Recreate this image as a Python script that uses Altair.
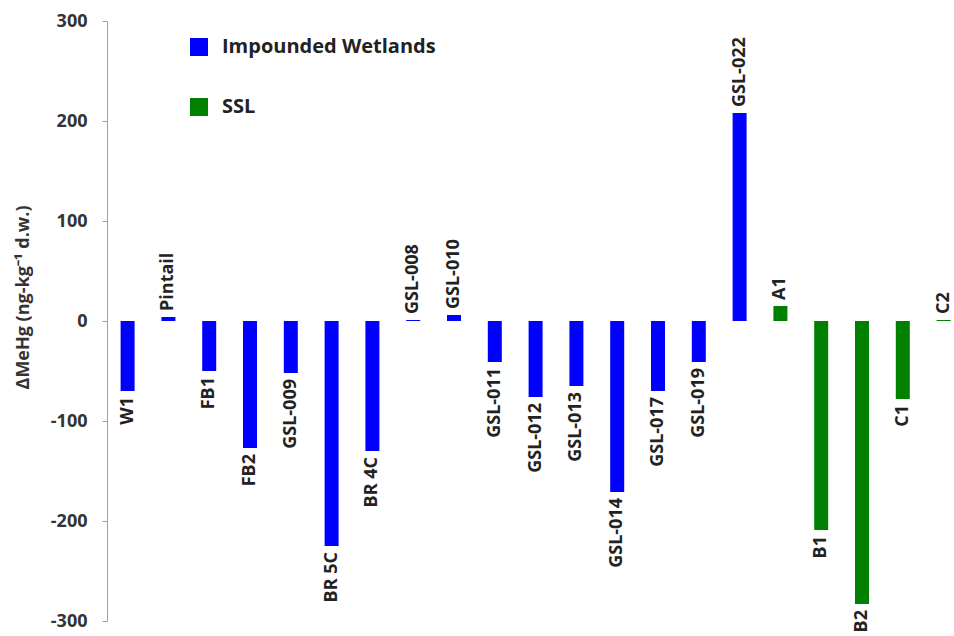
import altair as alt
import pandas as pd

# Change in MeHg per site (ng-kg-1 d.w.)
sites = ["W1", "Pintail", "FB1", "FB2", "GSL-009", "BR 5C", "BR 4C", "GSL-008",
         "GSL-010", "GSL-011", "GSL-012", "GSL-013", "GSL-014", "GSL-017",
         "GSL-019", "GSL-022", "A1", "B1", "B2", "C1", "C2"]
values = [-70, 4, -50, -127, -52, -225, -130, 1,
          6, -41, -76, -65, -171, -70,
          -41, 208, 15, -209, -283, -78, 1]
groups = ["Impounded Wetlands"] * 16 + ["SSL"] * 5

group_names = ["Impounded Wetlands", "SSL"]
group_colors = ["#0000ff", "#008000"]
y_ticks = [-300, -200, -100, 0, 100, 200, 300]

df = pd.DataFrame({"site": sites, "value": values, "group": groups})

FONT = "Open Sans"

x_enc = alt.X(
    "site:N", sort=None, axis=None,
    scale=alt.Scale(paddingInner=0.657, paddingOuter=0.2085, align=0.8),
)

base = alt.Chart(df)

bars = base.mark_bar().encode(
    x=x_enc,
    y=alt.Y(
        "value:Q",
        scale=alt.Scale(domain=[-300, 300], nice=False, zero=True),
        axis=alt.Axis(
            values=y_ticks, grid=False, domainColor="#a0a0a0", tickColor="#a0a0a0",
            tickSize=5, labelFont=FONT, labelFontSize=18, labelFontWeight="bold",
            labelColor="#333333", labelPadding=15, labelExpr="'' + datum.value",
            title="ΔMeHg  (ng-kg⁻¹ d.w.)", titleFont=FONT, titleFontSize=18,
            titleFontWeight="bold", titleColor="#333333", titleAngle=270,
            titleAlign="center", titleBaseline="middle", titleX=-84, titleY=276,
        ),
    ),
    color=alt.Color(
        "group:N", title=None,
        scale=alt.Scale(domain=group_names, range=group_colors),
        legend=alt.Legend(
            orient="none", legendX=82, legendY=16, symbolType="square",
            symbolSize=324, symbolStrokeWidth=0, labelFont=FONT, labelFontSize=20,
            labelFontWeight="bold", labelColor="#222222", labelOffset=13,
            labelLimit=0, rowPadding=40,
        ),
    ),
)

label_style = dict(angle=270, baseline="middle", font=FONT, fontSize=18,
                   fontWeight="bold", color="#222222")

pos_labels = base.transform_filter("datum.value >= 0").mark_text(
    align="left", dx=6, **label_style
).encode(x=x_enc, y="value:Q", text="site:N")

neg_labels = base.transform_filter("datum.value < 0").mark_text(
    align="right", dx=-6, **label_style
).encode(x=x_enc, y="value:Q", text="site:N")

chart = (
    alt.layer(bars, pos_labels, neg_labels)
    .properties(
        width=847, height=600,
        autosize=alt.AutoSizeParams(type="none"),
        padding={"left": 107, "top": 21, "right": 0, "bottom": 15},
    )
    .configure_view(stroke=None)
)

chart.save("out.html", embed_options={"renderer": "svg", "actions": False})
